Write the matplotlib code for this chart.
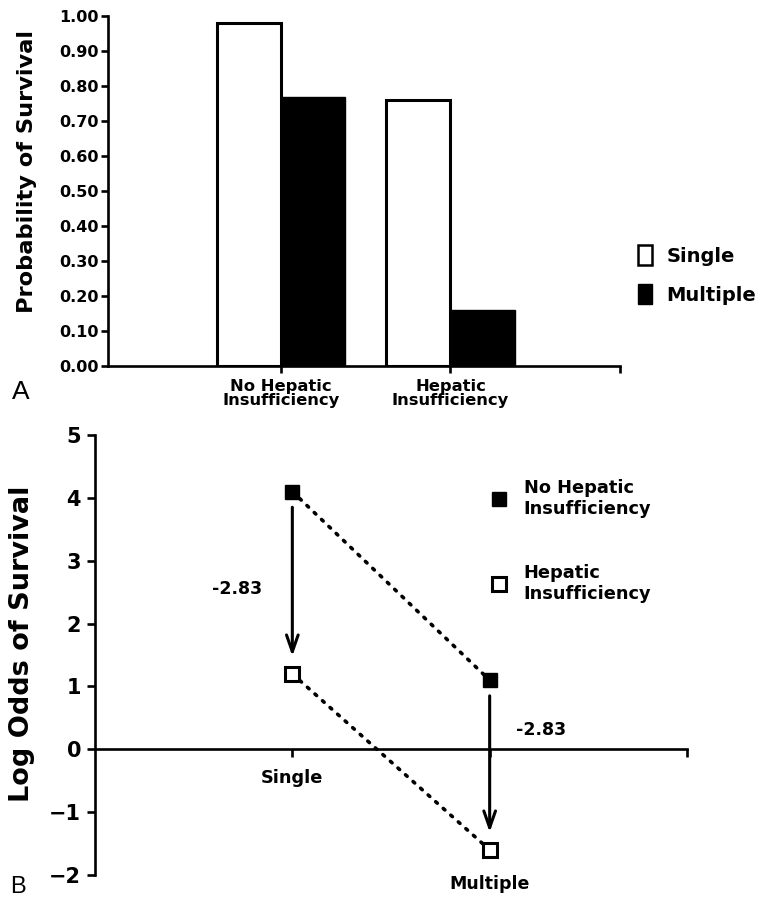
import matplotlib
matplotlib.use("Agg")
import matplotlib.pyplot as plt
from matplotlib.patches import Patch
from matplotlib.lines import Line2D

# ---------------- data ----------------
groups = ["No Hepatic\nInsufficiency", "Hepatic\nInsufficiency"]
single_prob = [0.98, 0.76]
multiple_prob = [0.77, 0.16]
prob_ticks = [0.0, 0.1, 0.2, 0.3, 0.4, 0.5, 0.6, 0.7, 0.8, 0.9, 1.0]

tumor_types = ["Single", "Multiple"]
logodds_no_hepatic = [4.1, 1.1]
logodds_hepatic = [1.2, -1.6]
logodds_ticks = [-2, -1, 0, 1, 2, 3, 4, 5]
effect_label = "-2.83"

W, H = 763, 899
fig = plt.figure(figsize=(W / 100, H / 100), dpi=100)
FB = "DejaVu Sans"
LW = 1.9


def px_axes(left, top, right, bottom):
    return fig.add_axes([left / W, 1 - bottom / H, (right - left) / W, (bottom - top) / H])


# ---------------- panel A ----------------
ax = px_axes(108, 16, 620, 366)
x = [0, 1]
ax.bar(x, single_prob, width=-0.38, align="edge", facecolor="white",
       edgecolor="black", linewidth=2.2, zorder=3)
ax.bar(x, multiple_prob, width=0.38, align="edge", facecolor="black",
       edgecolor="black", linewidth=1.0, zorder=3)
ax.set_xlim(-1.02, 2.0)
ax.set_ylim(0, 1.0)
for s in ["top", "right"]:
    ax.spines[s].set_visible(False)
for s in ["left", "bottom"]:
    ax.spines[s].set_linewidth(LW)
ax.set_yticks(prob_ticks)
ax.set_yticklabels([f"{v:.2f}" for v in prob_ticks], fontsize=11.5,
                   fontweight="bold", family=FB)
ax.set_xticks([0, 1, 2])
ax.set_xticklabels(groups + [""], fontsize=11.8, fontweight="bold", family=FB,
                   linespacing=1.0)
ax.tick_params(axis="both", direction="out", width=LW, length=5, pad=2)
ax.tick_params(axis="x", pad=4)
ax.set_ylabel("Probability of Survival", fontsize=16.2, family=FB,
              fontweight="bold")
ax.yaxis.set_label_coords(-0.138, 0.556)
ax.legend(handles=[Patch(facecolor="white", edgecolor="black", linewidth=1.8, label="Single"),
                   Patch(facecolor="black", edgecolor="black", label="Multiple")],
          loc="center left", bbox_to_anchor=(620 / W, 1 - 275 / H),
          bbox_transform=fig.transFigure, frameon=False,
          handlelength=0.75, handleheight=1.2, handletextpad=0.75, labelspacing=0.95,
          prop={"family": FB, "weight": "bold", "size": 14})
fig.text(12 / W, 1 - 392 / H, "A", fontsize=19, family="Liberation Sans",
         ha="left", va="center")

# ---------------- panel B ----------------
bx = px_axes(95, 435, 687, 875)
xs = [0, 1]
bx.plot(xs, logodds_no_hepatic, linestyle=(0, (0.6, 2.2)), color="black",
        linewidth=2.6, dash_capstyle="round", zorder=2)
bx.plot(xs, logodds_hepatic, linestyle=(0, (0.6, 2.2)), color="black",
        linewidth=2.6, dash_capstyle="round", zorder=2)
bx.plot(xs, logodds_no_hepatic, linestyle="none", marker="s", markersize=10.5,
        markerfacecolor="black", markeredgecolor="black", zorder=4)
bx.plot(xs, logodds_hepatic, linestyle="none", marker="s", markersize=10,
        markerfacecolor="white", markeredgecolor="black", markeredgewidth=2.2, zorder=4)
for xi, top, bot in zip(xs, logodds_no_hepatic, logodds_hepatic):
    bx.annotate("", xy=(xi, bot + 0.28), xytext=(xi, top - 0.25),
                arrowprops=dict(arrowstyle="->,head_length=1.2,head_width=0.42",
                                color="black", lw=2.2, shrinkA=0, shrinkB=0))
bx.text(-0.28, 2.55, effect_label, fontsize=12.5, fontweight="bold", family=FB,
        ha="center", va="center")
bx.text(1.26, 0.3, effect_label, fontsize=12.5, fontweight="bold", family=FB,
        ha="center", va="center")

bx.set_xlim(-1.0, 2.0)
bx.set_ylim(-2, 5)
for s in ["top", "right"]:
    bx.spines[s].set_visible(False)
bx.spines["bottom"].set_position(("data", 0))
for s in ["left", "bottom"]:
    bx.spines[s].set_linewidth(LW)
bx.set_yticks(logodds_ticks)
bx.set_yticklabels([str(v).replace("-", "\u2212") for v in logodds_ticks],
                   fontsize=15, fontweight="bold", family=FB)
bx.set_xticks([0, 1, 2])
bx.set_xticklabels([tumor_types[0], "", ""], fontsize=12.8, fontweight="bold", family=FB)
bx.tick_params(axis="both", direction="out", width=LW, length=6, pad=4)
bx.tick_params(axis="x", pad=8)
bx.text(1, -2.0, tumor_types[1], fontsize=12.5, fontweight="bold", family=FB,
        ha="center", va="top")
bx.set_ylabel("Log Odds of Survival", fontsize=19.5, fontweight="bold", family=FB)
bx.yaxis.set_label_coords(-0.102, 0.525)
bx.legend(handles=[Line2D([], [], linestyle="none", marker="s", markersize=10.5,
                          markerfacecolor="black", markeredgecolor="black",
                          label="No Hepatic\nInsufficiency"),
                   Line2D([], [], linestyle="none", marker="s", markersize=10,
                          markerfacecolor="white", markeredgecolor="black",
                          markeredgewidth=2.2, label="Hepatic\nInsufficiency")],
          loc="upper left", bbox_to_anchor=(474 / W, 1 - 463 / H),
          bbox_transform=fig.transFigure, frameon=False,
          handlelength=1.0, handletextpad=0.9, labelspacing=2.6,
          prop={"family": FB, "weight": "bold", "size": 12.8})
fig.text(10 / W, 1 - 898 / H, "B", fontsize=17, family="Liberation Sans",
         ha="left", va="bottom")

fig.savefig("out.png", dpi=100)
